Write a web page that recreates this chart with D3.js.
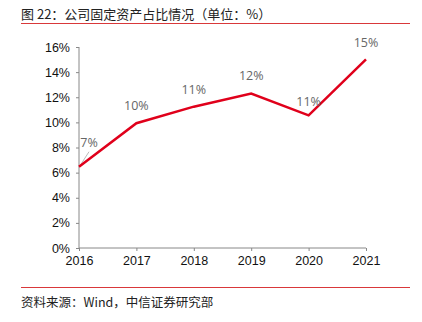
<!DOCTYPE html>
<html><head><meta charset="utf-8">
<script src="https://cdn.jsdelivr.net/npm/d3@7"></script>
<style>body{margin:0;background:#fff}svg{display:block}</style>
</head><body>
<script>
const years = ["2016","2017","2018","2019","2020","2021"];
const values = [6.47, 9.93, 11.25, 12.3, 10.56, 15.02];
const labels = ["7%","10%","11%","12%","11%","15%"];
const yTicks = [0,2,4,6,8,10,12,14,16];
const title = "图 22：公司固定资产占比情况（单位：%）";
const source = "资料来源：Wind，中信证券研究部";

const W=422,H=322;
const svg=d3.select("body").append("svg").attr("width",W).attr("height",H);
const cjk="'Noto Sans CJK SC','Liberation Sans',sans-serif";
const sans="'Liberation Sans',Arial,sans-serif";

svg.append("text").attr("x",21).attr("y",19).attr("font-family",cjk).attr("font-size",13).attr("fill","#222").text(title);
svg.append("line").attr("x1",21).attr("x2",410).attr("y1",23.5).attr("y2",23.5).attr("stroke","#d9383a").attr("stroke-width",1.2);
svg.append("line").attr("x1",21).attr("x2",410).attr("y1",287.5).attr("y2",287.5).attr("stroke","#d9383a").attr("stroke-width",1.2);
svg.append("text").attr("x",21).attr("y",307).attr("font-family",cjk).attr("font-size",12.5).attr("fill","#222").text(source);

const x=d3.scalePoint().domain(years).range([79,366]);
const y=d3.scaleLinear().domain([0,16]).range([248,47]);

const yAxis=svg.append("g").attr("transform","translate(79,0)")
  .call(d3.axisLeft(y).tickValues(yTicks).tickFormat(d=>d+"%").tickSize(3).tickPadding(6));
const xAxis=svg.append("g").attr("transform","translate(0,248)")
  .call(d3.axisBottom(x).tickSize(3).tickPadding(5));
[yAxis,xAxis].forEach(g=>{
  g.selectAll("path,line").attr("stroke","#888");
  g.selectAll("text").attr("font-family",sans).attr("font-size",12.5).attr("fill","#111");
});
yAxis.select(".domain").attr("d","M0,47V248");
xAxis.select(".domain").attr("d","M79,0H366");

// leader line for first label
svg.append("line").attr("x1",x(years[0])+1).attr("y1",y(values[0])-1).attr("x2",x(years[0])+10).attr("y2",y(values[0])-15)
  .attr("stroke","#bbb").attr("stroke-width",1);

svg.append("path").datum(values)
  .attr("d",d3.line().x((d,i)=>x(years[i])).y(d=>y(d)))
  .attr("fill","none").attr("stroke","#e0001b").attr("stroke-width",2.5);

const off=[[10,-25],[0,-18],[0,-18],[0,-18],[0,-14],[0,-17]];
svg.selectAll(".lbl").data(values).enter().append("text")
  .attr("x",(d,i)=>x(years[i])+off[i][0]).attr("y",(d,i)=>y(d)+off[i][1]+5)
  .attr("text-anchor","middle").attr("font-family","'Open Sans',sans-serif").attr("font-size",12.5).attr("fill","#666")
  .text((d,i)=>labels[i]);
</script>
</body></html>
